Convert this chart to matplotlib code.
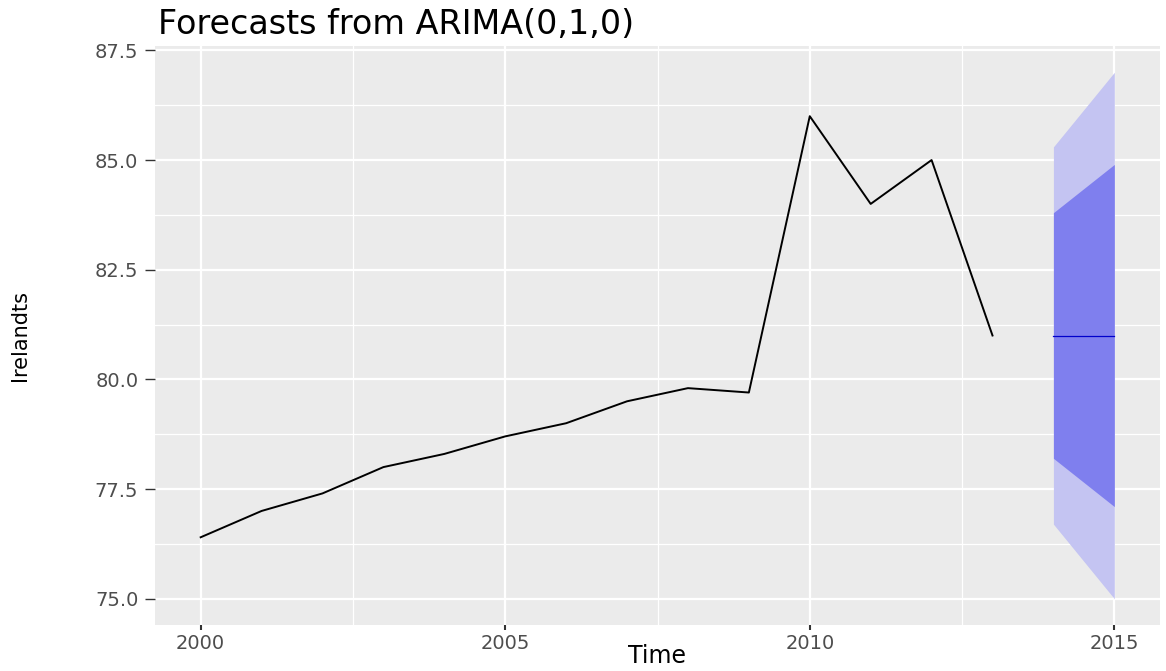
import matplotlib
matplotlib.use("Agg")
import matplotlib.pyplot as plt
import numpy as np

# observed series (annual)
years = [2000, 2001, 2002, 2003, 2004, 2005, 2006, 2007, 2008, 2009, 2010, 2011, 2012, 2013]
irelandts = [76.4, 77.0, 77.4, 78.0, 78.3, 78.7, 79.0, 79.5, 79.8, 79.7, 86.0, 84.0, 85.0, 81.0]

# forecast from ARIMA(0,1,0)
fc_years = [2014, 2015]
fc_mean = [81.0, 81.0]
lo80 = [78.2, 77.1]
hi80 = [83.8, 84.9]
lo95 = [76.7, 75.0]
hi95 = [85.3, 87.0]

xticks = [2000, 2005, 2010, 2015]
yticks = [75.0, 77.5, 80.0, 82.5, 85.0, 87.5]

W, H = 1166, 671
fig = plt.figure(figsize=(W / 100, H / 100), dpi=100)
ax = fig.add_axes([155 / W, 1 - 625 / H, (1160 - 155) / W, (625 - 46) / H])

ax.set_facecolor("#EBEBEB")
for s in ax.spines.values():
    s.set_visible(False)

# grid like ggplot
ax.set_xticks(xticks)
ax.set_yticks(yticks)
ax.set_xticks([2002.5, 2007.5, 2012.5], minor=True)
ax.set_yticks([76.25, 78.75, 81.25, 83.75, 86.25], minor=True)
ax.grid(which="major", color="white", lw=1.6)
ax.grid(which="minor", color="white", lw=0.9)
ax.set_axisbelow(True)

ax.fill_between(fc_years, lo95, hi95, color="#C4C4F2", lw=0)
ax.fill_between(fc_years, lo80, hi80, color="#7F7FEE", lw=0)
ax.plot(fc_years, fc_mean, color="#0000CC", lw=0.9)
ax.plot(years, irelandts, color="black", lw=1.4)

ax.set_xlim(1999.25, 2015.75)
ax.set_ylim(74.4, 87.6)

ax.set_xticklabels([str(x) for x in xticks])
ax.set_yticklabels(["%.1f" % y for y in yticks])
ax.tick_params(axis="both", which="minor", length=0)
ax.tick_params(axis="y", which="major", length=7, width=1, color="#333333",
               labelsize=14, labelcolor="#4D4D4D", pad=5)
ax.tick_params(axis="x", which="major", length=3.5, width=1.5, color="#333333",
               labelsize=14, labelcolor="#4D4D4D", pad=3)

ax.set_xlabel("Time", fontsize=17)
ax.xaxis.label.set_va("center")
ax.xaxis.set_label_coords(0.5, -(656 - 625) / (625 - 46))
ax.set_ylabel("Irelandts", fontsize=15)
ax.yaxis.label.set_va("center")
ax.yaxis.set_label_coords(-(155 - 20) / (1160 - 155), 0.5)

fig.text(158 / W, 1 - 24 / H, "Forecasts from ARIMA(0,1,0)", fontsize=24,
         ha="left", va="center")

fig.savefig("out.png", dpi=100, facecolor="white")
